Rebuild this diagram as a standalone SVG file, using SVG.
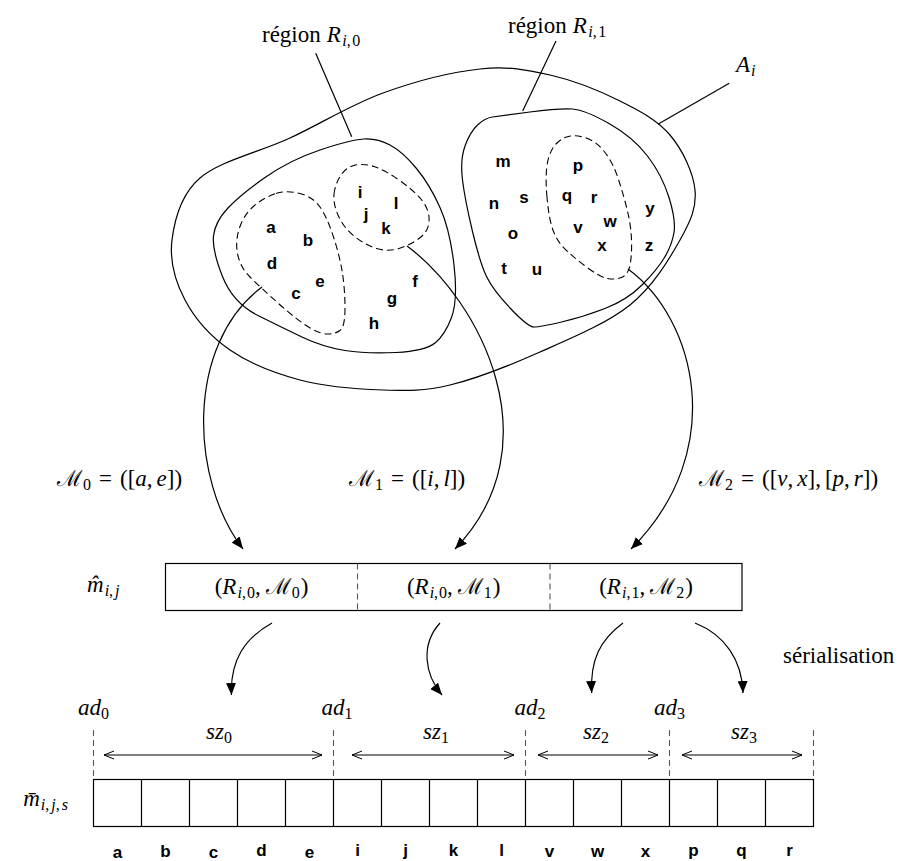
<svg xmlns="http://www.w3.org/2000/svg" width="899" height="861" viewBox="0 0 899 861">
<style>
.rm{font-family:"Liberation Serif","Times New Roman",serif;font-size:23px;fill:#000}
.it{font-style:italic}
.sb{font-size:16px}
.cal{font-family:"DejaVu Serif",serif;font-style:normal;font-size:22px}
.lt{font-family:"Liberation Sans",Arial,sans-serif;font-weight:bold;font-size:17px;text-anchor:middle;fill:#000}
.ln{fill:none;stroke:#000;stroke-width:1.2}
.dl{fill:none;stroke:#000;stroke-width:1.1;stroke-dasharray:7 4}
.dv{fill:none;stroke:#555;stroke-width:1.1;stroke-dasharray:6 4}
</style>
<defs>
<marker id="ah" viewBox="0 0 12 10" refX="12" refY="5" markerWidth="12" markerHeight="10" markerUnits="userSpaceOnUse" orient="auto"><path d="M0,0 L12,5 L0,10 z" fill="#000"/></marker>
<marker id="oa" viewBox="0 0 10 10" refX="10" refY="5" markerWidth="10" markerHeight="10" markerUnits="userSpaceOnUse" orient="auto-start-reverse"><path d="M0,1 L10,5 L0,9" fill="none" stroke="#000" stroke-width="1"/></marker>
</defs>
<rect width="899" height="861" fill="#fff"/>

<g id="A_i">
<path class="ln" d="M172,240 C174.5,219.7 180.3,195 200,178 C219.7,161 259.5,152.2 290,138 C320.5,123.8 351.3,104.5 383,93 C414.7,81.5 452.2,72 480,69 C507.8,66 526.7,69.7 550,75 C573.3,80.3 600,91 620,101 C640,111 657.5,120.2 670,135 C682.5,149.8 693.3,172.5 695,190 C696.7,207.5 690.8,220.8 680,240 C669.2,259.2 653.3,286.3 630,305 C606.7,323.7 570,338.7 540,352 C510,365.3 476.2,378.7 450,385 C423.8,391.3 408,390.8 383,390 C358,389.2 325.5,386.7 300,380 C274.5,373.3 249.2,363.3 230,350 C210.8,336.7 194.7,318.3 185,300 C175.3,281.7 169.5,260.3 172,240 Z"/>
<text class="rm" x="736" y="72"><tspan class="it">A</tspan><tspan class="sb it" dx="1" dy="4">i</tspan></text>
</g>

<g id="R_i0">
<path class="ln" d="M222.5,276.5 Q212,250 213.5,236 Q215,222 227.5,208.5 Q240,195 265,177.5 Q290,160 320,150 Q350,140 363.5,139 Q377,138 390,145 Q403,152 416.5,168.5 Q430,185 440,207.5 Q450,230 454,265 Q458,300 451.5,317.5 Q445,335 435,343 Q425,351 396,352.5 Q367,354 345,350.5 Q323,347 303,337.5 Q283,328 258,315.5 Q233,303 222.5,276.5 Z"/>
<text class="rm" x="262" y="42">région<tspan class="it" dx="6">R</tspan><tspan class="sb it" dx="1.5" dy="4">i</tspan><tspan class="sb">,</tspan><tspan class="sb" dx="1.5">0</tspan></text>
</g>

<g id="R_i1">
<path class="ln" d="M462.5,180 Q460,160 465,146 Q470,132 477.5,125 Q485,118 492.5,117 Q500,116 530,112 Q560,108 572.5,109 Q585,110 609,123.5 Q633,137 647.5,156 Q662,175 669,197.5 Q676,220 674,232.5 Q672,245 664.5,257.5 Q657,270 642,285 Q627,300 605,308.5 Q583,317 561.5,322 Q540,327 534,327 Q528,327 510.5,308.5 Q493,290 486.5,276.5 Q480,263 472.5,231.5 Q465,200 462.5,180 Z"/>
<text class="rm" x="508" y="33">région<tspan class="it" dx="6">R</tspan><tspan class="sb it" dx="1.5" dy="4">i</tspan><tspan class="sb">,</tspan><tspan class="sb" dx="1.5">1</tspan></text>
</g>

<g id="M0_set">
<path class="dl" d="M276,193.5 Q287,190 300,193.5 Q313,197 320,207 Q327,217 333.5,237 Q340,257 342.5,273.5 Q345,290 345,308.5 Q345,327 340,330.5 Q335,334 327.5,334 Q320,334 308.5,327 Q297,320 278.5,303.5 Q260,287 250,277 Q240,267 237.5,253.5 Q235,240 240,226.5 Q245,213 255,205 Q265,197 276,193.5 Z"/>
</g>
<g id="M1_set">
<path class="dl" d="M334,194 Q335,185 340,176.5 Q345,168 354,165.5 Q363,163 374,166.5 Q385,170 401,181.5 Q417,193 423.5,202.5 Q430,212 429,222 Q428,232 419,238.5 Q410,245 399,248.5 Q388,252 376.5,248.5 Q365,245 354,236 Q343,227 338,215 Q333,203 334,194 Z"/>
</g>
<g id="M2_set">
<path class="dl" d="M547,197.5 Q545,175 547.5,162.5 Q550,150 556.5,143.5 Q563,137 570.5,136 Q578,135 587.5,138.5 Q597,142 605,152.5 Q613,163 618,178 Q623,193 627,209 Q631,225 631.5,240 Q632,255 630,265 Q628,275 621.5,277.5 Q615,280 607.5,278.5 Q600,277 588.5,268.5 Q577,260 567.5,251.5 Q558,243 553.5,231.5 Q549,220 547,197.5 Z"/>
</g>

<g id="elements">
<text class="lt" x="271" y="233">a</text>
<text class="lt" x="308" y="246">b</text>
<text class="lt" x="272" y="269">d</text>
<text class="lt" x="320" y="287">e</text>
<text class="lt" x="296" y="299">c</text>
<text class="lt" x="415" y="287">f</text>
<text class="lt" x="392" y="304">g</text>
<text class="lt" x="374" y="329">h</text>
<text class="lt" x="360" y="198">i</text>
<text class="lt" x="396" y="209">l</text>
<text class="lt" x="366" y="220">j</text>
<text class="lt" x="386" y="234">k</text>
<text class="lt" x="503" y="167">m</text>
<text class="lt" x="578" y="171">p</text>
<text class="lt" x="494" y="209">n</text>
<text class="lt" x="524" y="203">s</text>
<text class="lt" x="567" y="201">q</text>
<text class="lt" x="594" y="203">r</text>
<text class="lt" x="610" y="227">w</text>
<text class="lt" x="578" y="233">v</text>
<text class="lt" x="650" y="214">y</text>
<text class="lt" x="513" y="239">o</text>
<text class="lt" x="602" y="251">x</text>
<text class="lt" x="649" y="251">z</text>
<text class="lt" x="504" y="274">t</text>
<text class="lt" x="537" y="275">u</text>
</g>

<g id="labels">
<text class="rm" x="57" y="486"><tspan class="cal">ℳ</tspan><tspan class="sb" dx="1" dy="4">0</tspan><tspan dx="8" dy="-4">=</tspan><tspan dx="8">([</tspan><tspan class="it">a</tspan>,<tspan class="it" dx="4">e</tspan>])</text>
<text class="rm" x="349" y="486"><tspan class="cal">ℳ</tspan><tspan class="sb" dx="1" dy="4">1</tspan><tspan dx="8" dy="-4">=</tspan><tspan dx="8">([</tspan><tspan class="it">i</tspan>,<tspan class="it" dx="4">l</tspan>])</text>
<text class="rm" x="699" y="486"><tspan class="cal">ℳ</tspan><tspan class="sb" dx="1" dy="4">2</tspan><tspan dx="8" dy="-4">=</tspan><tspan dx="8">([</tspan><tspan class="it">v</tspan>,<tspan class="it" dx="4">x</tspan>],<tspan dx="4">[</tspan><tspan class="it">p</tspan>,<tspan class="it" dx="4">r</tspan>])</text>
<text class="rm" x="87" y="592"><tspan class="it">m̂</tspan><tspan class="sb it" dx="1" dy="4">i</tspan><tspan class="sb">,</tspan><tspan class="sb it" dx="2">j</tspan></text>
<text class="rm" x="68" y="806" text-anchor="end"><tspan class="it">m̄</tspan><tspan class="sb it" dx="1" dy="4">i</tspan><tspan class="sb">,</tspan><tspan class="sb it" dx="2">j</tspan><tspan class="sb">,</tspan><tspan class="sb it" dx="2">s</tspan></text>
<text class="rm" x="783" y="663">sérialisation</text>
</g>

<g id="m_hat">
<rect class="ln" x="165.5" y="563.5" width="576.5" height="47"/>
<line class="dv" x1="357.5" y1="563.5" x2="357.5" y2="610.5"/>
<line class="dv" x1="550" y1="563.5" x2="550" y2="610.5"/>
<text class="rm" x="261.5" y="594" text-anchor="middle">(<tspan class="it">R</tspan><tspan class="sb it" dx="1" dy="4">i</tspan><tspan class="sb">,</tspan><tspan class="sb" dx="1">0</tspan><tspan dy="-4">,</tspan><tspan class="cal" dx="5">ℳ</tspan><tspan class="sb" dx="1" dy="4">0</tspan><tspan dx="1" dy="-4">)</tspan></text>
<text class="rm" x="453.7" y="594" text-anchor="middle">(<tspan class="it">R</tspan><tspan class="sb it" dx="1" dy="4">i</tspan><tspan class="sb">,</tspan><tspan class="sb" dx="1">0</tspan><tspan dy="-4">,</tspan><tspan class="cal" dx="5">ℳ</tspan><tspan class="sb" dx="1" dy="4">1</tspan><tspan dx="1" dy="-4">)</tspan></text>
<text class="rm" x="646" y="594" text-anchor="middle">(<tspan class="it">R</tspan><tspan class="sb it" dx="1" dy="4">i</tspan><tspan class="sb">,</tspan><tspan class="sb" dx="1">1</tspan><tspan dy="-4">,</tspan><tspan class="cal" dx="5">ℳ</tspan><tspan class="sb" dx="1" dy="4">2</tspan><tspan dx="1" dy="-4">)</tspan></text>
</g>

<g id="m_bar">
<rect class="ln" x="93.5" y="779.5" width="720" height="47"/>
<path class="ln" d="M141.5,779.5V826.5 M189.5,779.5V826.5 M237.5,779.5V826.5 M285.5,779.5V826.5 M333.5,779.5V826.5 M381.5,779.5V826.5 M429.5,779.5V826.5 M477.5,779.5V826.5 M525.5,779.5V826.5 M573.5,779.5V826.5 M621.5,779.5V826.5 M669.5,779.5V826.5 M717.5,779.5V826.5 M765.5,779.5V826.5"/>
<text class="lt" x="117.5" y="858">a</text>
<text class="lt" x="165.5" y="857">b</text>
<text class="lt" x="213.5" y="858">c</text>
<text class="lt" x="261.5" y="856">d</text>
<text class="lt" x="309.5" y="858">e</text>
<text class="lt" x="357.5" y="856">i</text>
<text class="lt" x="405.5" y="856">j</text>
<text class="lt" x="453.5" y="856">k</text>
<text class="lt" x="501.5" y="856">l</text>
<text class="lt" x="549.5" y="857">v</text>
<text class="lt" x="597.5" y="857">w</text>
<text class="lt" x="645.5" y="857">x</text>
<text class="lt" x="693.5" y="856">p</text>
<text class="lt" x="741.5" y="856">q</text>
<text class="lt" x="789.5" y="856">r</text>
</g>

<g id="offsets">
<path class="dv" d="M93.5,730V779 M333.5,730V779 M525.5,730V779 M669.5,730V779 M813.5,730V779"/>
<text class="rm" x="93.5" y="715" text-anchor="middle"><tspan class="it">ad</tspan><tspan class="sb" dy="4">0</tspan></text>
<text class="rm" x="337" y="715" text-anchor="middle"><tspan class="it">ad</tspan><tspan class="sb" dy="4">1</tspan></text>
<text class="rm" x="530" y="715" text-anchor="middle"><tspan class="it">ad</tspan><tspan class="sb" dy="4">2</tspan></text>
<text class="rm" x="669.5" y="715" text-anchor="middle"><tspan class="it">ad</tspan><tspan class="sb" dy="4">3</tspan></text>
<text class="rm" x="219" y="739" text-anchor="middle"><tspan class="it">sz</tspan><tspan class="sb" dy="4">0</tspan></text>
<text class="rm" x="436" y="739" text-anchor="middle"><tspan class="it">sz</tspan><tspan class="sb" dy="4">1</tspan></text>
<text class="rm" x="596" y="739" text-anchor="middle"><tspan class="it">sz</tspan><tspan class="sb" dy="4">2</tspan></text>
<text class="rm" x="744" y="739" text-anchor="middle"><tspan class="it">sz</tspan><tspan class="sb" dy="4">3</tspan></text>
</g>

<g id="connectors">
<line class="ln" x1="315.7" y1="53.3" x2="351.7" y2="136.7"/>
<line class="ln" x1="556" y1="41" x2="522.7" y2="111"/>
<line class="ln" x1="729.3" y1="83.3" x2="658.3" y2="124"/>
<path class="ln" marker-end="url(#ah)" d="M262,287 C185,345 190,480 243,549"/>
<path class="ln" marker-end="url(#ah)" d="M407,246 C480,300 555,445 455,549"/>
<path class="ln" marker-end="url(#ah)" d="M628,269 C695,318 730,450 631,549"/>
<path class="ln" marker-end="url(#ah)" d="M272,623 C245,638 230,660 231.5,695"/>
<path class="ln" marker-end="url(#ah)" d="M440,623 C420,645 425,675 442,695"/>
<path class="ln" marker-end="url(#ah)" d="M623,623 C600,640 590,660 591.7,693"/>
<path class="ln" marker-end="url(#ah)" d="M695,623 C725,635 742,660 743,693"/>
<line class="ln" marker-start="url(#oa)" marker-end="url(#oa)" x1="104" y1="755" x2="322" y2="755"/>
<line class="ln" marker-start="url(#oa)" marker-end="url(#oa)" x1="352" y1="755" x2="514" y2="755"/>
<line class="ln" marker-start="url(#oa)" marker-end="url(#oa)" x1="538" y1="755" x2="658" y2="755"/>
<line class="ln" marker-start="url(#oa)" marker-end="url(#oa)" x1="682" y1="755" x2="802" y2="755"/>
</g>
</svg>
